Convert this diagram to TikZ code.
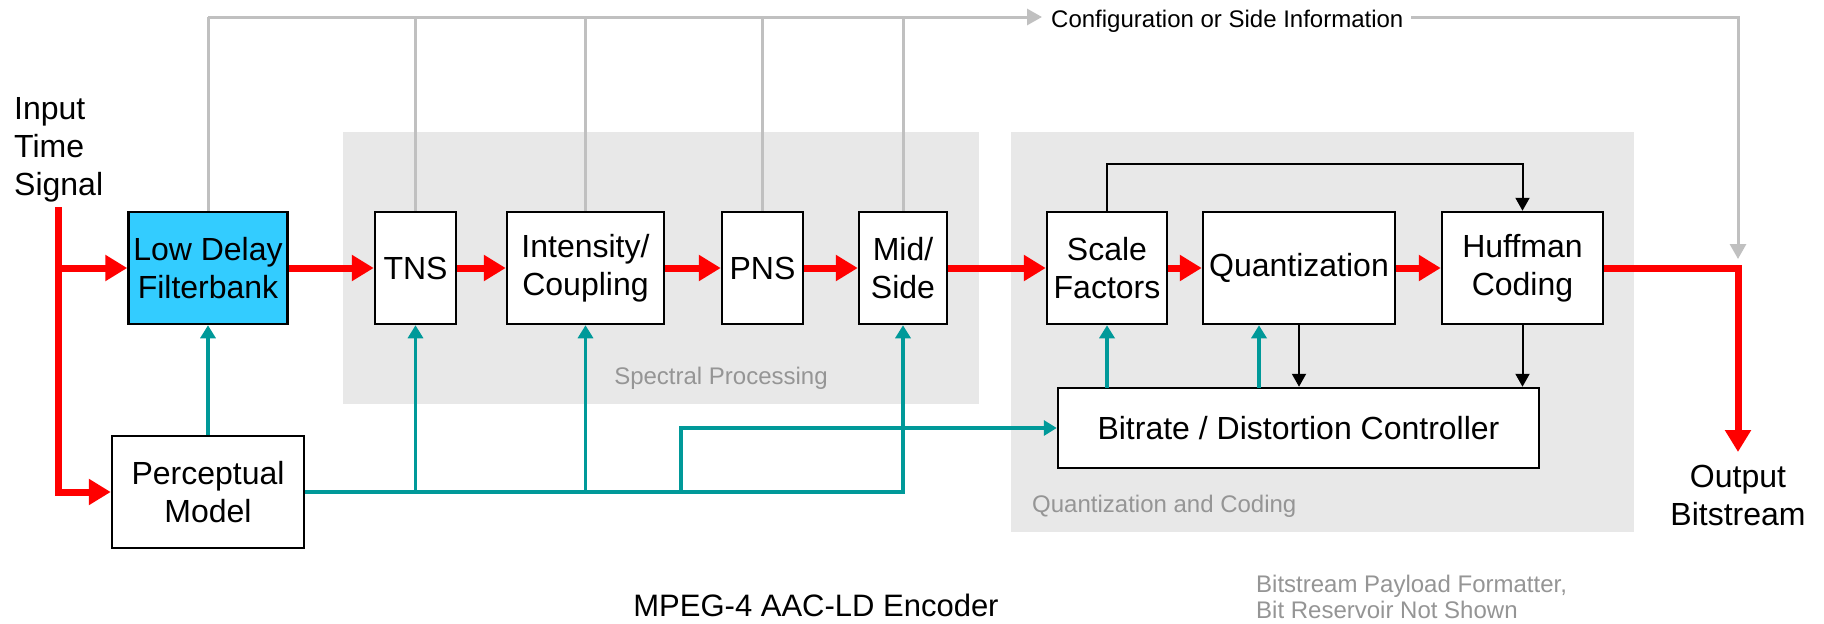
\documentclass[tikz,border=0pt]{standalone}
\usepackage{fontspec}
\setmainfont{Liberation Sans}
\usetikzlibrary{arrows.meta}
\definecolor{sigred}{HTML}{FF0000}
\definecolor{ctrlteal}{HTML}{009999}
\definecolor{sidegray}{HTML}{C0C0C0}
\definecolor{fbblue}{HTML}{33CCFF}
\definecolor{panel}{HTML}{E8E8E8}
\definecolor{labelgray}{HTML}{959595}
\tikzset{
  block/.style={draw=black, line width=2.5pt, fill=white, inner sep=0pt,
    align=center, font=\fontsize{32}{38}\selectfont, minimum height=112pt},
  sig/.style={draw=sigred, line width=7pt, line join=miter,
    -{Triangle[length=22pt,width=25pt]}},
  ctrl/.style={draw=ctrlteal, line width=3.5pt,
    -{Triangle[length=13pt,width=15pt]}},
  sideline/.style={draw=sidegray, line width=3pt},
  sidetip/.style={-{Triangle[length=15pt,width=16pt]}},
  loopline/.style={draw=black, line width=2pt,
    -{Triangle[length=13pt,width=14pt]}},
  bigtext/.style={font=\fontsize{32}{38}\selectfont, inner sep=0pt},
  smalltext/.style={font=\fontsize{24}{26}\selectfont, inner sep=0pt},
}
\begin{document}
\begin{tikzpicture}[x=1pt,y=-1pt]
\useasboundingbox (0,0) rectangle (1824,624);
\fill[white] (0,0) rectangle (1824,624);

% group panels
\fill[panel] (343,132) rectangle (979,404);
\fill[panel] (1011,132) rectangle (1634,532);
\node[smalltext, text=labelgray, anchor=base] (spl) at (721,384) {Spectral Processing};
\node[smalltext, text=labelgray, anchor=base west] (qcl) at (1032,512) {Quantization and Coding};

% processing blocks
\node[block, fill=fbblue, minimum width=159pt] (fb) at (208,268) {Low Delay\\Filterbank};
\node[block, minimum width=81pt]  (tns) at (415.5,268) {TNS};
\node[block, minimum width=157pt] (ic)  at (585.5,268) {Intensity/\\Coupling};
\node[block, minimum width=81pt]  (pns) at (762.5,268) {PNS};
\node[block, minimum width=88pt]  (ms)  at (903,268) {Mid/\\Side};
\node[block, minimum width=120pt] (sf)  at (1107,268) {Scale\\Factors};
\node[block, minimum width=192pt] (qz)  at (1299,268) {Quantization};
\node[block, minimum width=161pt] (hc)  at (1522.5,268) {Huffman\\Coding};
\node[block, minimum width=192pt] (pm)  at (208,492) {Perceptual\\Model};
\node[block, minimum width=481pt, minimum height=80pt] (bd) at (1298.5,428) {Bitrate / Distortion Controller};

% texts (base anchor sits on the last line)
\node[bigtext, anchor=base west, align=left] (inl) at (14,195) {Input\\Time\\Signal};
\node[bigtext, anchor=base, align=center] (outl) at (1738,525) {Output\\Bitstream};
\node[smalltext, anchor=base west] (sidel) at (1051,27) {Configuration or Side Information};
\node[font=\fontsize{31}{36}\selectfont, inner sep=0pt, anchor=base] (ttl) at (816,616) {MPEG-4 AAC-LD Encoder};
\node[smalltext, text=labelgray, anchor=base west, align=left] (note) at (1256,618) {Bitstream Payload Formatter,\\Bit Reservoir Not Shown};

% side information bus
\coordinate (busL) at (208,17);
\coordinate (busR) at (1042,17);
\coordinate (busR2) at (1411,17);
\coordinate (busC) at (1738,17);
\coordinate (busE) at (1738,259);
\draw[sideline] (fb.north) -- (busL);
\draw[sideline] (tns.north) -- (tns.north |- busL);
\draw[sideline] (ic.north) -- (ic.north |- busL);
\draw[sideline] (pns.north) -- (pns.north |- busL);
\draw[sideline] (ms.north) -- (ms.north |- busL);
\draw[sideline, sidetip] (busL) -- (busR);
\draw[sideline, sidetip] (busR2) -- (busC) -- (busE);

% signal path
\coordinate (inTop) at (58,207);
\coordinate (inMid) at (58,268);
\coordinate (inBot) at (58,492);
\coordinate (outC) at (1738,268);
\coordinate (outE) at (1738,452);
\draw[sig, -] (inTop) -- (inBot);
\draw[sig] (inMid) -- (fb.west);
\draw[sig] ([yshift=-3.5pt]inBot) -- (inBot) -- (pm.west);
\draw[sig] (fb.east) -- (tns.west);
\draw[sig] (tns.east) -- (ic.west);
\draw[sig] (ic.east) -- (pns.west);
\draw[sig] (pns.east) -- (ms.west);
\draw[sig] (ms.east) -- (sf.west);
\draw[sig] (sf.east) -- (qz.west);
\draw[sig] (qz.east) -- (hc.west);
\draw[sig] (hc.east) -- (outC) -- (outE);

% perceptual model control
\coordinate (loopA) at (681,492);
\coordinate (loopB) at (681,428);
\draw[ctrl] (pm.north) -- (fb.south);
\draw[ctrl] (pm.east) -- (ms.south |- pm.east) -- (ms.south);
\draw[ctrl] (tns.south |- pm.east) -- (tns.south);
\draw[ctrl] (ic.south |- pm.east) -- (ic.south);
\draw[ctrl] (loopA) -- (loopB) -- (bd.west);

% rate / distortion loop
\coordinate (sfq) at (1107,388);
\coordinate (qzq) at (1259,388);
\draw[ctrl] (sfq) -- (sf.south);
\draw[ctrl] (qzq) -- (qzq |- qz.south);
\draw[loopline] (qz.south) -- (qz.south |- bd.north);
\draw[loopline] (hc.south) -- (hc.south |- bd.north);
\coordinate (fbk) at (1107,164);
\draw[loopline] (sf.north) -- (fbk) -- (fbk -| hc.north) -- (hc.north);
\end{tikzpicture}
\end{document}
